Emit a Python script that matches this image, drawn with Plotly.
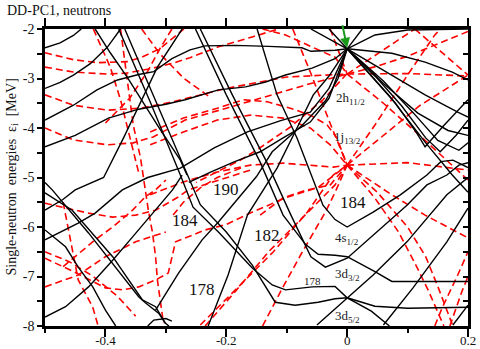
import plotly.graph_objects as go

# ---------------- black (solid) levels: (deformation, energy) ----------------
B01 = ([-0.5, -0.475, -0.453, -0.44], [-2.38, -2.28, -2.13, -2.0])
B02 = ([-0.5, -0.475, -0.453, -0.425, -0.397, -0.375], [-3.2, -3.08, -2.93, -2.7, -2.37, -2.0])
B03 = ([-0.5, -0.453, -0.414, -0.38, -0.345, -0.32, -0.29, -0.26, -0.235, -0.185, -0.13, -0.075, -0.06, -0.02, 0.0],
       [-3.84, -3.54, -3.23, -3.03, -2.92, -2.86, -2.6, -2.42, -2.34, -2.33, -2.35, -2.38, -2.45, -2.43, -2.4])
B04 = ([-0.5, -0.45, -0.395, -0.345, -0.3, -0.268, -0.213, -0.168, -0.135, -0.102, -0.058, -0.02, 0.0],
       [-4.38, -4.15, -3.8, -3.62, -3.52, -3.43, -3.23, -3.17, -3.07, -2.93, -2.79, -2.6, -2.4])
B05 = ([-0.5, -0.471, -0.45, -0.403, -0.37, -0.342, -0.314, -0.273], [-5.66, -5.45, -5.25, -5.0, -4.2, -3.5, -2.77, -2.0])
B06 = ([-0.5, -0.445, -0.417, -0.372, -0.33, -0.3, -0.276, -0.22, -0.165, -0.11, -0.061, -0.03, 0.0],
       [-6.26, -5.92, -5.72, -5.25, -5.0, -4.9, -4.81, -4.4, -4.08, -3.85, -3.68, -3.2, -2.4])
B07 = ([-0.23, -0.197, -0.165, -0.144, -0.116, -0.083, -0.056, -0.03, 0.0], [-8.0, -6.97, -5.76, -5.35, -4.81, -4.0, -3.33, -2.95, -2.4])
B08 = ([-0.317, -0.306, -0.279, -0.24, -0.213, -0.15, -0.124, -0.074, -0.036, -0.015, 0.0],
       [-7.68, -7.47, -6.93, -6.26, -5.9, -4.98, -4.48, -3.94, -3.45, -3.0, -2.4])
B09 = ([-0.5, -0.466, -0.428, -0.388, -0.355, -0.317, -0.289, -0.273], [-7.82, -7.61, -7.21, -6.67, -6.2, -5.66, -5.25, -4.95])
B10 = ([-0.262, -0.226, -0.188, -0.144, -0.106, -0.061, -0.03, 0.0], [-5.1, -4.89, -4.69, -4.48, -4.2, -3.88, -3.4, -2.4])
D00 = ([-0.417, -0.392, -0.364, -0.337, -0.309, -0.276, -0.265], [-2.0, -2.48, -2.97, -3.5, -4.04, -4.65, -4.95])
D01 = ([-0.378, -0.326, -0.276, -0.255, -0.213, -0.157, -0.124, -0.102, -0.058, -0.02, 0.0, 0.046, 0.1, 0.2],
       [-2.0, -3.47, -4.95, -5.6, -6.1, -6.83, -7.17, -7.27, -7.21, -7.2, -7.43, -7.6, -7.64, -7.62])
D02 = ([-0.368, -0.316, -0.264, -0.243, -0.2, -0.157, -0.119, -0.086, -0.048, -0.02, 0.0, 0.04, 0.07],
       [-2.0, -3.47, -4.95, -5.55, -6.1, -6.77, -7.52, -7.58, -7.52, -7.45, -7.43, -7.7, -8.0])
D03 = ([-0.251, -0.2, -0.144, -0.106, -0.069, -0.048, -0.02, 0.0, 0.046, 0.074, 0.13, 0.2],
       [-2.0, -3.33, -4.69, -5.76, -6.35, -6.55, -6.57, -6.6, -6.9, -7.1, -7.1, -7.1])
D04 = ([-0.243, -0.19, -0.133, -0.093, -0.06, -0.036, 0.0, 0.043, 0.099, 0.132, 0.165, 0.185, 0.2],
       [-2.0, -3.33, -4.69, -5.76, -6.6, -6.81, -6.63, -6.16, -5.56, -5.15, -4.95, -4.75, -4.7])
S4 = ([-0.149, -0.116, -0.083, -0.061, -0.04, -0.02, 0.0, 0.043, 0.088, 0.132, 0.155, 0.175, 0.2],
      [-2.0, -3.33, -4.2, -4.89, -5.56, -5.85, -6.0, -5.7, -5.35, -4.95, -4.68, -4.65, -4.8])
R01 = ([0.0, 0.046, 0.1, 0.2], [-2.4, -2.12, -2.02, -2.0])
R02 = ([0.0, 0.074, 0.129, 0.174, 0.2], [-2.4, -2.49, -2.67, -2.87, -3.03])
R03 = ([0.0, 0.074, 0.129, 0.183, 0.2], [-2.4, -2.93, -3.33, -3.68, -3.78])
R04 = ([0.0, 0.06, 0.117, 0.167, 0.2], [-2.4, -3.1, -3.7, -4.05, -4.15])
R05 = ([-0.05, 0.0, 0.043, 0.099, 0.165, 0.2], [-7.98, -7.43, -6.97, -6.3, -5.35, -5.0])
R06 = ([0.06, 0.109, 0.165, 0.2], [-7.98, -7.23, -6.3, -5.62])
R07 = ([0.175, 0.2], [-7.98, -7.58])
R08 = ([0.0, 0.07, 0.13, 0.174, 0.2], [-2.4, -3.35, -4.3, -4.95, -5.3])
V01 = ([0.0, 0.04, 0.08, 0.115, 0.129, 0.16, 0.2], [-2.4, -2.95, -3.5, -4.1, -4.38, -3.95, -3.43])
V02 = ([0.0, 0.05, 0.09, 0.13, 0.154, 0.18, 0.2], [-2.4, -3.0, -3.55, -4.2, -4.48, -4.15, -3.84])
V03 = ([0.0, 0.06, 0.11, 0.15, 0.185, 0.2], [-2.4, -3.05, -3.7, -4.25, -4.45, -4.3])
U01 = ([-0.06, 0.0], [-2.0, -2.4])
U02 = ([-0.03, 0.0], [-2.0, -2.4])
U03 = ([0.0, 0.025], [-2.4, -2.0])
LA = ([-0.5, -0.455, -0.388, -0.339, -0.317, -0.301, -0.295], [-5.31, -5.66, -6.6, -7.47, -7.61, -7.94, -8.0])
LB = ([-0.5, -0.488, -0.428, -0.379, -0.345, -0.334, -0.312, -0.301], [-5.1, -5.25, -6.12, -6.87, -7.41, -7.53, -7.74, -7.94])
LC = ([-0.5, -0.466, -0.445, -0.421, -0.4, -0.383], [-6.06, -6.4, -6.81, -7.21, -7.68, -8.0])
LOOP = ([-0.33, -0.32, -0.3, -0.29], [-8.0, -7.88, -7.85, -7.9])

black_lines = [B01, B02, B03, B04, B05, B06, B07, B08, B09, B10, D00, D01, D02, D03, D04, S4,
               R01, R02, R03, R04, R05, R06, R07, R08, V01, V02, V03, U01, U02, U03,
               LA, LB, LC, LOOP]

# ---------------- red (dashed) levels ----------------
A1 = ([-0.5, -0.453, -0.413, -0.364, -0.342, -0.31, -0.285, -0.27], [-2.48, -2.62, -2.68, -2.66, -2.58, -2.4, -2.15, -2.0])
A2 = ([-0.5, -0.453, -0.397, -0.364, -0.321, -0.288, -0.26, -0.213, -0.157, -0.114],
      [-2.77, -2.87, -2.91, -2.89, -2.79, -2.69, -2.58, -2.36, -2.16, -2.0])
A3 = ([-0.5, -0.453, -0.397, -0.342, -0.288, -0.2, -0.1, 0.0], [-3.33, -3.54, -3.64, -3.6, -3.47, -3.2, -2.97, -2.91])
A4 = ([-0.5, -0.453, -0.397, -0.354, -0.321, -0.268, -0.2, -0.13, -0.06, 0.0],
      [-4.0, -4.24, -4.34, -4.3, -4.18, -3.84, -3.6, -3.35, -3.1, -2.91])
M1 = ([-0.326, -0.271, -0.215, -0.172, -0.132, -0.094, -0.061, -0.033, -0.017, 0.0],
      [-4.08, -3.8, -3.6, -3.43, -3.47, -3.6, -3.74, -3.94, -4.2, -4.75])
M2 = ([-0.326, -0.271, -0.215, -0.16, -0.106, -0.061, -0.028, 0.0], [-4.34, -4.08, -3.84, -3.74, -3.8, -4.0, -4.34, -4.75])
M3 = ([-0.326, -0.271, -0.215, -0.16, -0.106, -0.061, -0.023, 0.0], [-5.35, -5.09, -4.89, -4.75, -4.71, -4.75, -4.79, -4.75])
M5 = ([-0.235, -0.185, -0.13, -0.074, -0.02, 0.0], [-8.0, -7.3, -6.5, -5.82, -5.15, -4.75])
M6 = ([-0.14, -0.107, -0.074, -0.036, -0.02, 0.0], [-8.0, -7.23, -6.5, -5.7, -5.3, -4.75])
M7 = ([-0.243, -0.215, -0.177, -0.122, -0.066, -0.023, 0.0], [-7.98, -7.64, -7.17, -6.5, -5.7, -4.95, -4.75])
M8 = ([-0.288, -0.271, -0.243, -0.215, -0.172], [-5.76, -5.5, -5.21, -5.0, -4.79])
M9 = ([-0.144, -0.106, -0.066, -0.028, 0.0], [-5.76, -5.41, -5.25, -5.15, -4.75])
RR1 = ([0.0, 0.05, 0.1, 0.112], [-2.91, -2.5, -2.1, -2.0])
RR2 = ([0.112, 0.15, 0.2], [-2.0, -2.4, -2.93])
RR3 = ([0.0, 0.1, 0.2], [-2.91, -2.9, -2.95])
RR4 = ([0.0, 0.06, 0.12, 0.2], [-4.75, -4.15, -3.55, -2.93])
RR5 = ([0.0, 0.046, 0.1, 0.145, 0.155], [-4.75, -3.94, -2.93, -2.12, -2.0])
RR6 = ([0.0, 0.06, 0.12, 0.17, 0.2], [-2.91, -3.5, -4.15, -4.7, -5.05])
RR7 = ([0.0, 0.1, 0.2], [-4.75, -4.7, -4.85])
RR8 = ([0.0, 0.074, 0.129, 0.2], [-4.75, -5.35, -5.76, -6.22])
RR9 = ([0.0, 0.045, 0.085, 0.115, 0.135, 0.16], [-4.75, -5.4, -6.1, -6.8, -7.3, -8.0])
RR10 = ([0.0, 0.05, 0.1, 0.13, 0.15, 0.175], [-4.75, -5.3, -6.0, -6.6, -7.2, -8.0])
RR11 = ([0.145, 0.157, 0.183, 0.2], [-8.0, -7.64, -6.97, -6.5])
RR12 = ([0.17, 0.19, 0.2], [-8.0, -7.3, -7.0])
RR13 = ([0.2, 0.15, 0.1, 0.05, 0.0], [-2.05, -2.3, -2.55, -2.75, -2.91])
RL1 = ([-0.14, -0.102, -0.048, -0.02, 0.0], [-2.0, -2.12, -2.42, -2.57, -2.91])
RL2 = ([-0.028, 0.0], [-2.0, -2.91])
RL3 = ([0.0, -0.04, -0.094, -0.149, -0.177, -0.25], [-2.9, -3.43, -3.98, -4.44, -4.65, -5.1])
RL5 = ([-0.09, -0.06, -0.03, 0.0], [-2.0, -2.9, -3.85, -4.75])
RS1 = ([-0.375, -0.364, -0.354, -0.342, -0.334, -0.329, -0.322, -0.317, -0.314, -0.309, -0.304],
       [-2.0, -3.0, -3.94, -4.6, -5.25, -5.66, -6.12, -6.6, -7.07, -7.48, -7.94])
RS2 = ([-0.42, -0.392, -0.375, -0.359, -0.345], [-2.0, -2.77, -3.43, -4.24, -4.9])
RS3 = ([-0.34, -0.31, -0.27, -0.23], [-2.0, -2.5, -3.0, -3.35])
RS4 = ([-0.29, -0.31, -0.33, -0.36, -0.4], [-2.0, -2.4, -2.85, -3.4, -3.9])
RLO1 = ([-0.5, -0.466, -0.428, -0.388, -0.35, -0.317, -0.279, -0.263, -0.213, -0.16],
        [-5.52, -5.62, -5.72, -5.8, -5.76, -5.66, -5.39, -5.25, -5.05, -4.85])
RLO2 = ([-0.5, -0.453, -0.4, -0.372, -0.345, -0.317, -0.296, -0.284, -0.235, -0.2, -0.157, -0.102, -0.048, 0.0],
        [-6.63, -6.9, -7.23, -7.27, -7.21, -7.07, -6.93, -6.3, -6.06, -5.95, -5.7, -5.41, -5.2, -4.75])
RLO3 = ([-0.5, -0.445, -0.4, -0.35, -0.3], [-7.21, -6.97, -6.6, -6.3, -6.1])
RLO4 = ([-0.5, -0.46, -0.42, -0.38, -0.35], [-6.5, -6.7, -7.0, -7.4, -7.8])
RLO5 = ([-0.47, -0.445, -0.421, -0.412], [-5.5, -7.07, -7.62, -8.0])
RLO6 = ([-0.47, -0.417, -0.388, -0.355, -0.334, -0.317, -0.3], [-6.8, -6.26, -6.0, -5.66, -5.39, -5.25, -5.05])

red_lines = [A1, A2, A3, A4, M1, M2, M3, M5, M6, M7, M8, M9,
             RR1, RR2, RR3, RR4, RR5, RR6, RR7, RR8, RR9, RR10, RR11, RR12, RR13,
             RL1, RL2, RL3, RL5, RS1, RS2, RS3, RS4, RLO1, RLO2, RLO3, RLO4, RLO5, RLO6]

# ---------------- axis ticks ----------------
x_major = [-0.4, -0.2, 0.0, 0.2]
x_major_text = ["-0.4", "-0.2", "0", "0.2"]
x_minor = [-0.5, -0.3, -0.1, 0.1]
x_top = [-0.5, -0.4, -0.3, -0.2, -0.1, 0.0, 0.1, 0.2]
y_major = [-8, -7, -6, -5, -4, -3, -2]
y_major_text = ["-8", "-7", "-6", "-5", "-4", "-3", "-2"]
y_half = [-8, -7.5, -7, -6.5, -6, -5.5, -5, -4.5, -4, -3.5, -3, -2.5, -2]

# ---------------- labels ----------------
label_text = ["2h<sub>11/2</sub>", "1j<sub>13/2</sub>", "4s<sub>1/2</sub>", "3d<sub>3/2</sub>", "3d<sub>5/2</sub>"]
label_x = [0.005, 0.0, 0.0, 0.0, 0.0]
label_y = [-3.4, -4.2, -6.24, -6.95, -7.8]
magic_text = ["190", "184", "182", "178", "184"]
magic_x = [-0.2, -0.268, -0.132, -0.24, 0.01]
magic_y = [-5.25, -5.86, -6.18, -7.27, -5.5]

SERIF = "Liberation Serif"
fig = go.Figure()

for x, y in red_lines:
    fig.add_trace(go.Scatter(x=x, y=y, mode="lines", hoverinfo="skip", showlegend=False,
                             line=dict(color="#ff0000", width=1.6, dash="7px,4px")))
for x, y in black_lines:
    fig.add_trace(go.Scatter(x=x, y=y, mode="lines", hoverinfo="skip", showlegend=False,
                             line=dict(color="black", width=1.4)))

# dummy trace to activate the mirror axes
fig.add_trace(go.Scatter(x=[-0.5], y=[-8], xaxis="x2", yaxis="y2", mode="markers",
                         marker=dict(opacity=0), hoverinfo="skip", showlegend=False))

for t, x, y in zip(label_text, label_x, label_y):
    fig.add_annotation(x=x, y=y, text=t, showarrow=False, font=dict(family=SERIF, size=13, color="#222"))
for t, x, y in zip(magic_text, magic_x, magic_y):
    fig.add_annotation(x=x, y=y, text=t, showarrow=False, font=dict(family=SERIF, size=17, color="#111"))
fig.add_annotation(x=-0.058, y=-7.1, text="178", showarrow=False, font=dict(family=SERIF, size=11, color="#222"))

# 1k17/2 label and green arrow
fig.add_annotation(x=-0.028, y=-1.72, text="1k<sub>17/2</sub>", showarrow=False,
                   font=dict(family=SERIF, size=13, color="#222"))
fig.add_annotation(x=0.0, y=-2.38, ax=-5, ay=-24, text="", showarrow=True,
                   arrowhead=2, arrowsize=1, arrowwidth=2, arrowcolor="#1a9a1a")

fig.add_annotation(xref="paper", yref="paper", x=-0.095, y=1.062, xanchor="left", yanchor="middle",
                   text="DD-PC1, neutrons", showarrow=False, font=dict(family=SERIF, size=14, color="#111"))
fig.add_annotation(xref="paper", yref="paper", x=-0.078, y=0.5, xanchor="center", yanchor="middle",
                   textangle=-90,
                   text="Single-neutron  energies  ε<sub>i</sub>  [MeV]", showarrow=False,
                   font=dict(family=SERIF, size=14, color="#111"))

axis_common = dict(showgrid=False, zeroline=False, showline=True, linecolor="black", linewidth=2.5,
                   automargin=False)
fig.update_layout(
    width=480, height=349,
    margin=dict(l=45, r=12, t=29, b=23, autoexpand=False),
    plot_bgcolor="white", paper_bgcolor="white",
    xaxis=dict(range=[-0.5, 0.2], tickvals=x_major, ticktext=x_major_text, ticks="outside",
               ticklen=8, tickwidth=1.5, tickcolor="black", ticklabelstandoff=-7,
               tickfont=dict(family=SERIF, size=13, color="#111"),
               minor=dict(tickvals=x_minor, ticks="outside", ticklen=4, tickwidth=1.5, tickcolor="black"),
               **axis_common),
    yaxis=dict(range=[-8, -2], tickvals=y_major, ticktext=y_major_text, ticks="outside",
               ticklen=5, tickwidth=1.5, tickcolor="black",
               tickfont=dict(family=SERIF, size=14, color="#111"),
               minor=dict(tickvals=y_half, ticks="outside", ticklen=5, tickwidth=1.5, tickcolor="black"),
               **axis_common),
    xaxis2=dict(range=[-0.5, 0.2], overlaying="x", side="top", anchor="y2", tickvals=x_top,
                ticks="outside", ticklen=8, tickwidth=1.5, tickcolor="black", showticklabels=False,
                **axis_common),
    yaxis2=dict(range=[-8, -2], overlaying="y", side="right", anchor="x2", tickvals=y_half,
                ticks="inside", ticklen=5, tickwidth=1.5, tickcolor="black", showticklabels=False,
                **axis_common),
)

fig.write_html("out.html", config={"displayModeBar": False},
               post_script="document.body.style.margin='0px';")
